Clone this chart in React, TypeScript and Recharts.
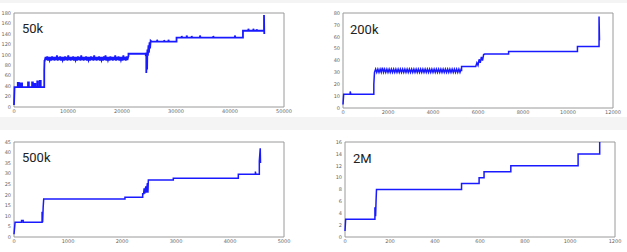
import React from "react";
import { LineChart, Line, XAxis, YAxis, ReferenceArea } from "recharts";

// ---- data: [x, y] samples of each trace ----
const trace50k: number[][] = [
  [0, 4], [100, 38],
  [700, 38], [700, 46], [900, 46], [900, 38],
  [1200, 38], [1200, 45], [1500, 45], [1500, 38],
  [2600, 38], [2600, 47], [2750, 47], [2750, 38],
  [3350, 38], [3350, 47], [3500, 47], [3500, 38],
  [3800, 38], [3800, 44], [3950, 44], [3950, 38],
  [4300, 38], [4300, 49], [4450, 49], [4450, 38],
  [4800, 38], [4800, 50], [4950, 50], [4950, 38],
  [5600, 38], [5600, 70], [5650, 90],
  [5700, 89], [5850, 96], [6000, 90], [6150, 97], [6300, 89], [6450, 96], [6600, 90], [6750, 96],
  [6900, 89], [7050, 97], [7200, 90], [7350, 96], [7500, 89], [7650, 96], [7800, 90], [7950, 99],
  [8100, 89], [8250, 96], [8400, 90], [8550, 97], [8700, 89], [8850, 96], [9000, 90], [9150, 96],
  [9300, 89], [9450, 97], [9600, 90], [9750, 96], [9900, 89], [10050, 99], [10200, 90], [10350, 96],
  [10500, 89], [10650, 96], [10800, 90], [10950, 97], [11100, 89], [11250, 96], [11400, 90], [11550, 96],
  [11700, 89], [11850, 97], [12000, 90], [12150, 96], [12300, 89], [12450, 99], [12600, 90], [12750, 96],
  [12900, 89], [13050, 96], [13200, 90], [13350, 97], [13500, 89], [13650, 96], [13800, 90], [13950, 96],
  [14100, 89], [14250, 97], [14400, 90], [14550, 96], [14700, 89], [14850, 99], [15000, 90], [15150, 96],
  [15300, 89], [15450, 96], [15600, 90], [15750, 97], [15900, 89], [16050, 96], [16200, 90], [16350, 96],
  [16500, 89], [16650, 97], [16800, 90], [16950, 99], [17100, 89], [17250, 96], [17400, 90], [17550, 96],
  [17700, 89], [17850, 97], [18000, 90], [18150, 96], [18300, 89], [18450, 96], [18600, 90], [18750, 99],
  [18900, 89], [19050, 96], [19200, 90], [19350, 97], [19500, 89], [19650, 96], [19800, 90], [19950, 96],
  [20100, 89], [20250, 99], [20400, 90], [20550, 96], [20700, 89], [20850, 97], [21000, 90], [21150, 96],
  [21200, 97], [21200, 102], [24400, 102], [24400, 97], [24500, 104], [24500, 65], [24600, 100],
  [24650, 72], [24700, 110], [24800, 98], [24900, 118], [25000, 104], [25100, 124], [25200, 112],
  [25300, 127], [25500, 125],
  [26500, 125], [26500, 129], [26600, 125], [27800, 125], [27800, 128], [27900, 125],
  [28600, 125], [28600, 129], [28700, 125], [30100, 125], [30100, 133],
  [31050, 133], [31050, 136], [31150, 133], [31975, 133], [31975, 137], [32075, 133],
  [32900, 133], [32900, 136], [33000, 133], [34440, 133], [34440, 137], [34540, 133],
  [36900, 133], [36900, 136], [37000, 133], [40900, 133], [40900, 137], [41000, 133],
  [42400, 133], [42400, 146],
  [43400, 146], [43400, 150], [43500, 146], [44320, 146], [44320, 150], [44420, 146],
  [44940, 146], [44940, 149], [45040, 146],
  [46300, 146], [46300, 176], [46350, 140],
];

const trace200k: number[][] = [
  [0, 3], [30, 11.5], [320, 11.5], [320, 14], [350, 11.5],
  [1370, 11.5], [1370, 20], [1390, 27],
  [1400, 30], [1450, 32.8], [1500, 30], [1550, 32.8], [1600, 30], [1650, 32.8], [1700, 30], [1750, 34],
  [1800, 30], [1850, 32.8], [1900, 30], [1950, 32.8], [2000, 30], [2050, 32.8], [2100, 30], [2150, 32.8],
  [2200, 30], [2250, 32.8], [2300, 30], [2350, 32.8], [2400, 30], [2450, 32.8], [2500, 30], [2550, 32.8],
  [2600, 30], [2650, 32.8], [2700, 30], [2750, 32.8], [2800, 30], [2850, 32.8], [2900, 30], [2950, 32.8],
  [3000, 30], [3050, 32.8], [3100, 30], [3150, 32.8], [3200, 30], [3250, 32.8], [3300, 30], [3350, 32.8],
  [3400, 30], [3450, 32.8], [3500, 30], [3550, 32.8], [3600, 30], [3650, 32.8], [3700, 30], [3750, 32.8],
  [3800, 30], [3850, 32.8], [3900, 30], [3950, 32.8], [4000, 30], [4050, 32.8], [4100, 30], [4150, 32.8],
  [4200, 30], [4250, 32.8], [4300, 30], [4350, 32.8], [4400, 30], [4450, 32.8], [4500, 30], [4550, 32.8],
  [4600, 30], [4650, 32.8], [4700, 30], [4750, 32.8], [4800, 30], [4850, 32.8], [4900, 30], [4950, 32.8],
  [5000, 30], [5050, 32.8], [5100, 30], [5150, 32.8], [5200, 30], [5250, 32.8],
  [5270, 31], [5270, 35], [5900, 35], [5950, 38], [6000, 36], [6050, 41], [6100, 38],
  [6150, 43], [6200, 40], [6250, 45], [6300, 45.5],
  [7360, 45.5], [7360, 47.5], [10420, 47.5], [10420, 51.7], [11380, 51.7], [11380, 77], [11400, 57],
];

const trace500k: number[][] = [
  [0, 1.3], [20, 7], [140, 7], [140, 7.8], [170, 7.8], [170, 7],
  [520, 7], [520, 12], [530, 7], [540, 14], [550, 18],
  [2055, 18], [2055, 18.8], [2383, 18.8], [2383, 20.5], [2400, 20.5], [2410, 23], [2420, 20.5],
  [2440, 24], [2450, 21], [2470, 25.5], [2480, 21], [2488, 27],
  [2950, 27], [2950, 27.8], [4154, 27.8], [4154, 29.7], [4470, 29.7], [4470, 31], [4480, 29.7],
  [4543, 29.7], [4543, 36], [4560, 42], [4565, 35],
];

const trace2M: number[][] = [
  [0, 1], [3, 3], [133, 3], [133, 5], [136, 3.5], [138, 6], [140, 8],
  [518, 8], [518, 9], [596, 9], [596, 10], [618, 10], [618, 11],
  [737, 11], [737, 12], [1036, 12], [1036, 14], [1132, 14], [1132, 16],
];

const xTicks50k = [0, 10000, 20000, 30000, 40000, 50000];
const yTicks50k = [0, 20, 40, 60, 80, 100, 120, 140, 160, 180];
const xTicks200k = [0, 2000, 4000, 6000, 8000, 10000, 12000];
const yTicks200k = [0, 10, 20, 30, 40, 50, 60, 70, 80];
const xTicks500k = [0, 1000, 2000, 3000, 4000, 5000];
const yTicks500k = [0, 5, 10, 15, 20, 25, 30, 35, 40, 45];
const xTicks2M = [0, 200, 400, 600, 800, 1000, 1200];
const yTicks2M = [0, 2, 4, 6, 8, 10, 12, 14, 16];

const titles = ["50k", "200k", "500k", "2M"];

const BLUE = "#1a1aff";
const tickStyle = { fontSize: 5, fill: "#666", fontFamily: "DejaVu Sans" };

type PanelProps = {
  trace: number[][];
  xTicks: number[];
  yTicks: number[];
  title: string;
  left: number;
  top: number;
  width: number;
  height: number;
  titleLeft: number;
  titleBaseline: number;
  strokeWidth: number;
};

function Panel(p: PanelProps) {
  const rows = p.trace.map(([x, y]) => ({ x, y }));
  const xMax = p.xTicks[p.xTicks.length - 1];
  const yMax = p.yTicks[p.yTicks.length - 1];
  return (
    <>
      <div style={{ position: "absolute", left: p.left, top: p.top }}>
        <LineChart
          width={p.width}
          height={p.height}
          data={rows}
          margin={{ top: 3, right: 10, bottom: 0, left: 0 }}
        >
          <XAxis
            dataKey="x"
            type="number"
            domain={[0, xMax]}
            ticks={p.xTicks}
            interval={0}
            height={10}
            tickSize={0}
            tickMargin={2}
            tickLine={false}
            axisLine={false}
            tick={tickStyle}
          />
          <YAxis
            type="number"
            domain={[0, yMax]}
            ticks={p.yTicks}
            interval={0}
            width={14}
            tickSize={0}
            tickMargin={3}
            tickLine={false}
            axisLine={false}
            tick={tickStyle}
            allowDataOverflow
          />
          <ReferenceArea
            x1={0}
            x2={xMax}
            y1={0}
            y2={yMax}
            fill="none"
            stroke="#9a9a9a"
            strokeWidth={1}
          />
          <Line
            type="linear"
            dataKey="y"
            stroke={BLUE}
            strokeWidth={p.strokeWidth}
            dot={false}
            isAnimationActive={false}
          />
        </LineChart>
      </div>
      <div
        style={{
          position: "absolute",
          left: p.titleLeft,
          top: p.titleBaseline - 11,
          fontFamily: "Roboto",
          fontSize: 13,
          lineHeight: "13px",
          color: "#222",
          whiteSpace: "nowrap",
        }}
      >
        {p.title}
      </div>
    </>
  );
}

export default function App() {
  return (
    <div
      style={{
        position: "absolute",
        left: 0,
        top: 0,
        width: 627,
        height: 252,
        background: "#fff",
        overflow: "hidden",
      }}
    >
      <div style={{ position: "absolute", left: 0, top: 0, width: 627, height: 3, background: "#f4f4f4" }} />
      <div style={{ position: "absolute", left: 0, top: 117, width: 627, height: 13, background: "#f4f4f4" }} />
      <Panel trace={trace50k} xTicks={xTicks50k} yTicks={yTicks50k} title={titles[0]}
        left={0} top={10} width={294} height={107} titleLeft={22} titleBaseline={33} strokeWidth={1.8} />
      <Panel trace={trace200k} xTicks={xTicks200k} yTicks={yTicks200k} title={titles[1]}
        left={329} top={10} width={294} height={108} titleLeft={350} titleBaseline={34} strokeWidth={1.5} />
      <Panel trace={trace500k} xTicks={xTicks500k} yTicks={yTicks500k} title={titles[2]}
        left={0} top={139} width={294} height={108} titleLeft={22} titleBaseline={162} strokeWidth={1.5} />
      <Panel trace={trace2M} xTicks={xTicks2M} yTicks={yTicks2M} title={titles[3]}
        left={331} top={139} width={294} height={108} titleLeft={353} titleBaseline={163} strokeWidth={1.5} />
    </div>
  );
}
